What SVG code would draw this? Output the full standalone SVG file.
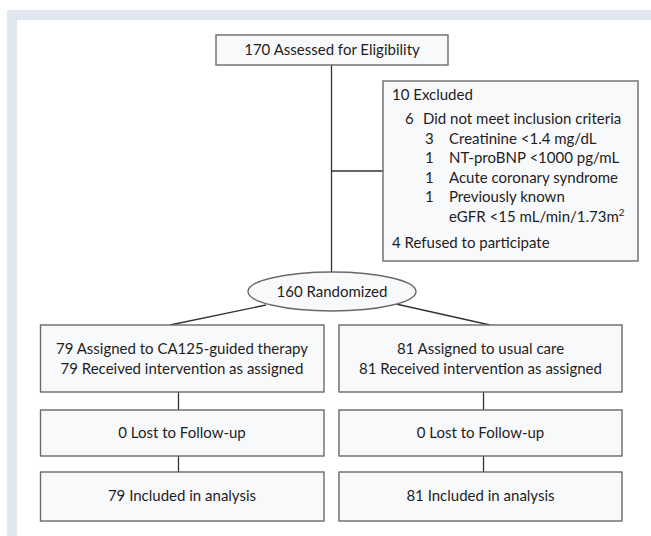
<svg xmlns="http://www.w3.org/2000/svg" width="651" height="536" viewBox="0 0 651 536">
<style>
.box{fill:#f8f9fb;stroke:#6a6a6a;stroke-width:1.4}
.t{font-family:Lato,"Liberation Sans",sans-serif;font-size:15px;fill:#1e1e1e}
.c{text-anchor:middle}
.ln{stroke:#333;stroke-width:1.3;fill:none}
</style>
<rect x="0" y="0" width="651" height="536" fill="#fff"/>
<rect x="7" y="10" width="644" height="10" fill="#e1e6f0"/>
<rect x="7" y="10" width="10" height="526" fill="#e1e6f0"/>
<g id="connectors">
<line class="ln" x1="331.5" y1="65" x2="331.5" y2="272"/>
<line class="ln" x1="331.5" y1="171" x2="383" y2="171" stroke="#888"/>
<line class="ln" x1="266" y1="305" x2="170" y2="325"/>
<line class="ln" x1="396" y1="304" x2="490" y2="325"/>
<line class="ln" x1="178.5" y1="392" x2="178.5" y2="410"/>
<line class="ln" x1="178.5" y1="456" x2="178.5" y2="472"/>
<line class="ln" x1="483.5" y1="392" x2="483.5" y2="410"/>
<line class="ln" x1="483.5" y1="456" x2="483.5" y2="472"/>
</g>
<g id="assessed">
<rect class="box" x="216" y="35" width="232" height="30"/>
<text class="t c" x="332" y="55">170 Assessed for Eligibility</text>
</g>
<g id="excluded">
<rect class="box" x="383" y="81" width="255" height="180"/>
<text class="t" x="392" y="100">10 Excluded</text>
<text class="t" x="405" y="124">6</text>
<text class="t" x="423" y="124">Did not meet inclusion criteria</text>
<text class="t" x="425" y="144">3</text>
<text class="t" x="449" y="144">Creatinine &lt;1.4 mg/dL</text>
<text class="t" x="425" y="163">1</text>
<text class="t" x="449" y="163">NT-proBNP &lt;1000 pg/mL</text>
<text class="t" x="425" y="183">1</text>
<text class="t" x="449" y="183">Acute coronary syndrome</text>
<text class="t" x="425" y="202">1</text>
<text class="t" x="449" y="202">Previously known</text>
<text class="t" x="449" y="222">eGFR &lt;15 mL/min/1.73m<tspan font-size="10" dy="-6">2</tspan></text>
<text class="t" x="392" y="248">4  Refused to participate</text>
</g>
<g id="randomized">
<ellipse class="box" cx="332" cy="291.5" rx="84" ry="19.5"/>
<text class="t c" x="332" y="297">160 Randomized</text>
</g>
<g id="assigned-ca125">
<rect class="box" x="40.5" y="325" width="283.5" height="67"/>
<text class="t c" x="182" y="354">79 Assigned to CA125-guided therapy</text>
<text class="t c" x="182" y="374">79 Received intervention as assigned</text>
</g>
<g id="assigned-usual">
<rect class="box" x="339" y="325" width="283" height="67"/>
<text class="t c" x="480.5" y="354">81 Assigned to usual care</text>
<text class="t c" x="480.5" y="374">81 Received intervention as assigned</text>
</g>
<g id="lost-left">
<rect class="box" x="40.5" y="410" width="283.5" height="46"/>
<text class="t c" x="182" y="438">0 Lost to Follow-up</text>
</g>
<g id="lost-right">
<rect class="box" x="339" y="410" width="283" height="46"/>
<text class="t c" x="480.5" y="438">0 Lost to Follow-up</text>
</g>
<g id="included-left">
<rect class="box" x="40.5" y="472" width="283.5" height="49"/>
<text class="t c" x="182" y="501">79 Included in analysis</text>
</g>
<g id="included-right">
<rect class="box" x="339" y="472" width="283" height="49"/>
<text class="t c" x="480.5" y="501">81 Included in analysis</text>
</g>
</svg>
